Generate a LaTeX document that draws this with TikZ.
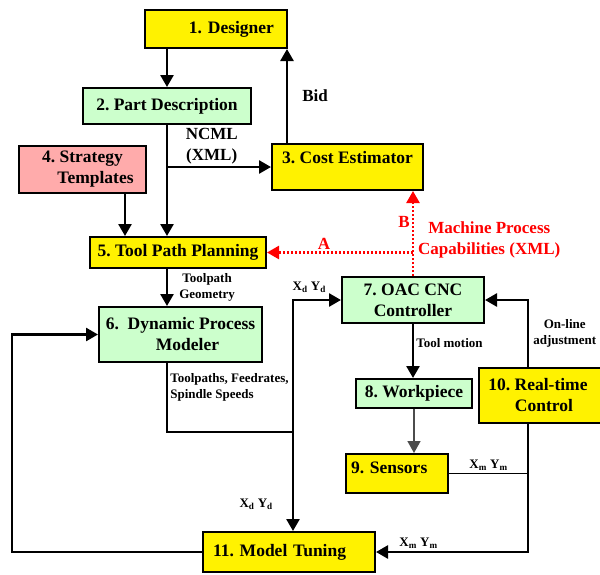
\documentclass[tikz,border=0pt]{standalone}
\usepackage{fontspec}
\setmainfont{Liberation Serif}
\usetikzlibrary{arrows.meta, positioning}
\frenchspacing

\begin{document}
\begin{tikzpicture}[x=1pt, y=-1pt, >={Triangle[length=12pt, width=13pt]},
    block/.style={rectangle, draw, line width=2pt, align=center, inner sep=2pt, font=\fontsize{17.5}{21}\selectfont\bfseries},
    ylw/.style={block, fill=yellow},
    grn/.style={block, fill=green!20},
    big/.style={font=\fontsize{17}{21}\selectfont\bfseries, align=center, inner sep=2pt},
    lbl/.style={font=\fontsize{13}{16}\selectfont\bfseries, align=center, inner sep=2pt},
    line/.style={line width=2.6pt},
    flow/.style={line, ->},
    thin/.style={line width=1.6pt},
    mpc/.style={->, red, line width=2.4pt, dash pattern=on 2pt off 2pt}]

\useasboundingbox (0,0) rectangle (600,574);

% Blocks
\node [ylw, text width=116pt, align=right, inner xsep=13pt, minimum height=38pt] (des) at (216,29) {1. Designer};
\node [grn, minimum width=168pt, minimum height=36pt] (part) at (167,106) {2. Part Description};
\node [block, fill=red!33, minimum width=127pt, minimum height=47pt] (strat) at (82.5,169.5) {4. Strategy\\\hspace*{26pt}Templates};
\node [ylw, minimum width=151pt, minimum height=46pt, text depth=20pt] (cost) at (347.5,167) {3. Cost Estimator};
\node [ylw, minimum width=176pt, minimum height=31pt] (tpp) at (178,252.5) {5. Tool Path Planning};
\node [grn, minimum width=142pt, minimum height=46pt] (cnc) at (413,300) {7. OAC CNC\\Controller};
\node [grn, minimum width=163pt, minimum height=55pt] (dpm) at (180.5,334.5) {6.\ \ Dynamic Process\\\hspace*{14pt}Modeler};
\node [grn, minimum width=116pt, minimum height=29pt] (wp) at (414,393.5) {8. Workpiece};
\node [ylw, text width=92pt, align=left, inner xsep=5pt, minimum height=39pt, text depth=12pt] (sens) at (397,473.5) {9. Sensors};
\node [ylw, minimum width=126pt, minimum height=55pt] (rtc) at (542,395.5) {\hspace*{-8pt}10. Real-time\\\hspace*{4pt}Control};
\node [ylw, text width=152pt, align=left, inner xsep=10pt, minimum height=40pt] (tune) at (289,552) {11. Model Tuning};

% Junctions
\coordinate (br) at (part.south |- cost.west);
\coordinate (jn) at (293,432);
\coordinate (lft) at (12,0);
\coordinate (rv) at ([xshift=50pt]rtc.north west);

% Design flow
\draw[flow] (part.north |- des.south) -- (part.north);
\draw[flow] ([xshift=16pt]cost.north west) -- ([xshift=16pt]cost.north west |- des.south) node[midway, right=12pt, big] {Bid};
\draw[flow] (part.south) -- (part.south |- tpp.north);
\draw[flow] (br) -- (cost.west) node[pos=.43, above, big] {NCML\\(XML)};
\draw[flow] ([xshift=-22pt]strat.south east) -- ([xshift=-22pt]strat.south east |- tpp.north);
\draw[flow] (part.south |- tpp.south) -- (part.south |- dpm.north) node[midway, right=9pt, lbl] {Toolpath\\Geometry};

% Machine capabilities
\draw[mpc] (cnc.north) -- (cnc.north |- cost.south) node[pos=.63, left, big] {B} node[pos=.42, right=2pt, big] {Machine Process\\Capabilities (XML)};
\draw[mpc] (cnc.north |- tpp.east) -- (tpp.east) node[pos=.61, above, big] {A};

% Process loop
\draw[line] (part.south |- dpm.south) |- (jn) node[pos=.18, right, lbl, align=left] {Toolpaths, Feedrates,\\Spindle Speeds};
\draw[flow] (jn) |- (cnc.west) node[pos=.67, above=4pt, lbl] {X\textsubscript{d} Y\textsubscript{d}};
\draw[flow] (jn) -- (jn |- tune.north) node[pos=.73, left=17pt, lbl] {X\textsubscript{d} Y\textsubscript{d}};
\draw[flow] (cnc.south) -- (cnc.south |- wp.north) node[pos=.36, right=0pt, lbl] {Tool motion};
\draw[->, thin, black!70] (wp.south) -- (wp.south |- sens.north);
\draw[flow] (rv) |- (cnc.east) node[pos=.25, right=2pt, lbl] {On-line\\adjustment};
\draw[flow] ([xshift=50pt]rtc.south west) |- (tune.east) node[pos=.86, above, lbl] {X\textsubscript{m} Y\textsubscript{m}};
\draw[thin] (sens.east) -- (sens.east -| rv) node[midway, above, lbl] {X\textsubscript{m} Y\textsubscript{m}};
\draw[flow] (tune.west) -| (lft |- dpm.west) -- (dpm.west);

\end{tikzpicture}
\end{document}
